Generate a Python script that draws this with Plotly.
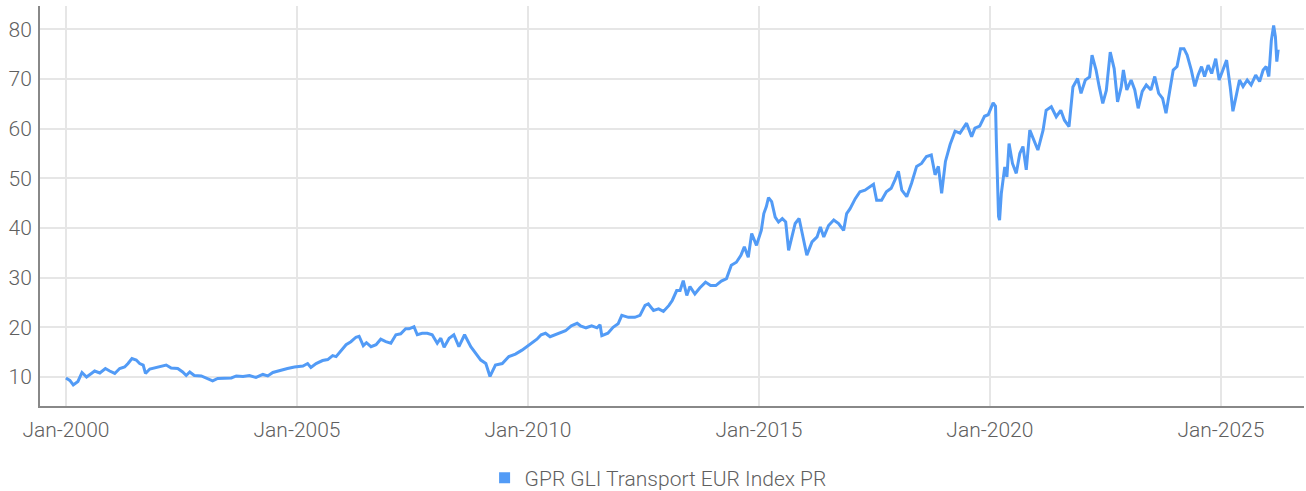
import plotly.graph_objects as go

dates = [
    "2000-01-01", "2000-02-01", "2000-02-28", "2000-04-05", "2000-05-07", "2000-06-12", "2000-07-20",
    "2000-08-15", "2000-09-25", "2000-11-08", "2000-12-12", "2001-01-21", "2001-03-01", "2001-04-09",
    "2001-05-06", "2001-06-06", "2001-07-10", "2001-08-06", "2001-09-03", "2001-09-21", "2001-10-25",
    "2001-12-03", "2002-01-25", "2002-03-04", "2002-04-12", "2002-06-03", "2002-07-12", "2002-08-09",
    "2002-09-06", "2002-10-12", "2002-12-06", "2003-01-28", "2003-03-06", "2003-04-15", "2003-06-06",
    "2003-08-01", "2003-09-09", "2003-11-01", "2003-12-22", "2004-02-12", "2004-04-06", "2004-05-15",
    "2004-06-24", "2004-08-28", "2004-10-18", "2004-12-12",
    "2005-02-17", "2005-03-26", "2005-04-21", "2005-06-01", "2005-07-22", "2005-09-01", "2005-10-10",
    "2005-11-06", "2005-12-15", "2006-01-24", "2006-03-03", "2006-04-12", "2006-05-07", "2006-06-09",
    "2006-07-04", "2006-08-09", "2006-09-18", "2006-10-25", "2006-12-04", "2007-01-13", "2007-02-22",
    "2007-04-01", "2007-05-10", "2007-06-06", "2007-07-15", "2007-08-10", "2007-09-18", "2007-10-28",
    "2007-12-06", "2008-01-15", "2008-02-12", "2008-03-09", "2008-04-18", "2008-05-25", "2008-07-04",
    "2008-08-18", "2008-10-06", "2008-11-15", "2008-12-24", "2009-02-02", "2009-03-07", "2009-04-19",
    "2009-06-12", "2009-08-03", "2009-09-24", "2009-11-15", "2010-01-09",
    "2010-03-13", "2010-04-15", "2010-05-20", "2010-06-25", "2010-08-01", "2010-09-15", "2010-10-25",
    "2010-12-10", "2011-01-25", "2011-02-20", "2011-04-05", "2011-05-20", "2011-07-01", "2011-07-25",
    "2011-08-08", "2011-09-25", "2011-11-05", "2011-12-15", "2012-01-13", "2012-03-05", "2012-04-25",
    "2012-06-05", "2012-07-15", "2012-08-10", "2012-09-20", "2012-10-30", "2012-12-07", "2013-01-20",
    "2013-02-15", "2013-03-22", "2013-04-18", "2013-05-13", "2013-06-10", "2013-07-05", "2013-08-13",
    "2013-09-20", "2013-11-05", "2013-12-15", "2014-01-25", "2014-03-10", "2014-04-20", "2014-05-28",
    "2014-07-07", "2014-08-12", "2014-09-08", "2014-10-09", "2014-11-05", "2014-12-13", "2015-01-05",
    "2015-01-20", "2015-02-09", "2015-03-01", "2015-03-18", "2015-04-12", "2015-05-10", "2015-06-05",
    "2015-07-05", "2015-08-01", "2015-08-24", "2015-09-20", "2015-10-15", "2015-11-15", "2015-12-15",
    "2016-01-15", "2016-02-25", "2016-04-05", "2016-05-01", "2016-05-28", "2016-07-05", "2016-08-15",
    "2016-09-22", "2016-11-01", "2016-11-25", "2016-12-22", "2017-02-01", "2017-03-10", "2017-04-19",
    "2017-05-28", "2017-06-25", "2017-07-20", "2017-08-28", "2017-10-05", "2017-11-12", "2017-12-12",
    "2018-01-08", "2018-02-04", "2018-03-15", "2018-04-22", "2018-06-01", "2018-07-10", "2018-08-18",
    "2018-09-25", "2018-10-25", "2018-11-20", "2018-12-16", "2019-01-15", "2019-02-21", "2019-04-01",
    "2019-05-10", "2019-07-01", "2019-08-10", "2019-09-05", "2019-10-13", "2019-11-20", "2019-12-19",
    "2020-01-27", "2020-02-15", "2020-02-22", "2020-03-10", "2020-03-18", "2020-04-01", "2020-04-28",
    "2020-05-15", "2020-06-01", "2020-06-28", "2020-07-28", "2020-08-25", "2020-09-19", "2020-10-15",
    "2020-11-12", "2020-12-10", "2021-01-15", "2021-02-25", "2021-03-21", "2021-05-01", "2021-06-09",
    "2021-07-15", "2021-08-13", "2021-09-18", "2021-10-19", "2021-11-25", "2021-12-22", "2022-01-25",
    "2022-02-28", "2022-03-19", "2022-04-20", "2022-05-15", "2022-06-12", "2022-07-10", "2022-08-10",
    "2022-09-10", "2022-10-07", "2022-11-05", "2022-11-22", "2022-12-19", "2023-01-22", "2023-02-20",
    "2023-03-19", "2023-04-20", "2023-05-22", "2023-06-28", "2023-07-28", "2023-08-28", "2023-09-28",
    "2023-10-25", "2023-11-25", "2023-12-21", "2024-01-20", "2024-02-17", "2024-03-15", "2024-04-09",
    "2024-05-12", "2024-06-09", "2024-07-05", "2024-08-01", "2024-08-25", "2024-09-22", "2024-10-20",
    "2024-11-21", "2024-12-18", "2025-01-18", "2025-02-15", "2025-03-15", "2025-04-06", "2025-05-01",
    "2025-05-28", "2025-06-25", "2025-07-28", "2025-08-28", "2025-10-03", "2025-11-03", "2025-12-01",
    "2025-12-25", "2026-01-15", "2026-02-04", "2026-02-22", "2026-03-08", "2026-03-19", "2026-03-30",
]

index_values = [
    9.8, 9.3, 8.4, 9.1, 10.9, 10.0, 10.7,
    11.2, 10.8, 11.7, 11.2, 10.7, 11.7, 12.0,
    12.7, 13.7, 13.4, 12.7, 12.4, 10.7, 11.6,
    11.8, 12.2, 12.4, 11.8, 11.7, 11.0, 10.3,
    11.0, 10.3, 10.2, 9.7, 9.2, 9.7, 9.7,
    9.8, 10.2, 10.1, 10.3, 9.9, 10.5, 10.2,
    10.9, 11.4, 11.7, 12.0,
    12.2, 12.7, 11.9, 12.7, 13.3, 13.5, 14.3,
    14.1, 15.4, 16.5, 17.1, 18.0, 18.2, 16.3,
    16.9, 16.1, 16.5, 17.6, 17.1, 16.8, 18.5,
    18.7, 19.7, 19.7, 20.1, 18.5, 18.8, 18.8,
    18.5, 16.8, 17.8, 16.0, 17.8, 18.5, 16.1,
    18.5, 16.1, 14.8, 13.4, 12.7, 10.1, 12.4,
    12.7, 14.1, 14.6, 15.4, 16.5,
    17.6, 18.5, 18.8, 18.1, 18.5, 19.0, 19.3,
    20.3, 20.8, 20.3, 19.9, 20.3, 19.9, 20.5,
    18.3, 18.8, 20.0, 20.7, 22.4, 22.0, 22.0,
    22.4, 24.4, 24.7, 23.4, 23.7, 23.2, 24.4,
    25.4, 27.4, 27.4, 29.4, 26.4, 28.2, 26.7,
    27.9, 29.1, 28.4, 28.4, 29.3, 29.8, 32.5,
    33.1, 34.5, 36.2, 34.1, 38.9, 36.5, 38.2,
    39.5, 42.9, 44.3, 46.1, 45.3, 42.2, 41.2,
    41.9, 41.2, 35.5, 38.2, 40.9, 41.9, 38.2,
    34.5, 37.2, 38.2, 40.2, 38.2, 40.5, 41.6,
    40.9, 39.5, 42.9, 43.9, 45.9, 47.3, 47.6,
    48.3, 48.8, 45.6, 45.6, 47.3, 48.0, 49.7,
    51.4, 47.6, 46.3, 49.0, 52.4, 53.0, 54.4,
    54.7, 50.7, 52.4, 47.0, 53.4, 56.8, 59.5,
    59.1, 61.1, 58.4, 60.1, 60.5, 62.5, 62.8,
    65.2, 64.5, 57.0, 42.3, 41.6, 47.0, 52.3,
    50.3, 57.0, 53.0, 51.0, 55.0, 56.4, 51.7,
    59.7, 58.0, 55.7, 59.7, 63.7, 64.4, 62.4,
    63.7, 61.7, 60.4, 68.4, 70.1, 67.1, 69.8,
    70.4, 74.8, 71.8, 68.4, 65.1, 67.7, 75.4,
    72.1, 65.4, 68.4, 71.8, 67.8, 69.8, 67.8,
    64.1, 67.5, 68.8, 67.8, 70.5, 67.1, 66.1,
    63.1, 67.8, 71.8, 72.5, 76.1, 76.1, 74.8,
    71.8, 68.5, 70.8, 72.5, 70.5, 72.8, 71.1,
    74.1, 69.8, 72.1, 73.8, 68.5, 63.5, 66.5,
    69.8, 68.5, 69.8, 68.8, 70.8, 69.5, 71.8,
    72.5, 70.5, 77.8, 80.8, 78.5, 73.5, 75.9,
]

series_name = "GPR GLI Transport EUR Index PR"
x_tick_vals = ["2000-01-01", "2005-01-01", "2010-01-01", "2015-01-01", "2020-01-01", "2025-01-01"]
x_tick_text = ["Jan-2000", "Jan-2005", "Jan-2010", "Jan-2015", "Jan-2020", "Jan-2025"]
y_tick_vals = [10, 20, 30, 40, 50, 60, 70, 80]

blue = "#529BF6"
font_family = "Roboto"
text_color = "#5f5f5f"

fig = go.Figure()
fig.add_trace(go.Scatter(
    x=dates, y=index_values, mode="lines", name=series_name,
    line=dict(color=blue, width=3), showlegend=False,
))
fig.add_trace(go.Scatter(
    x=[None], y=[None], mode="markers", name=series_name,
    marker=dict(symbol="square", size=11, color=blue), showlegend=True,
))

fig.update_layout(
    width=1306, height=491,
    margin=dict(l=40, r=2, t=6, b=85, autoexpand=False),
    paper_bgcolor="white", plot_bgcolor="white",
    font=dict(family=font_family, size=21, color=text_color, weight=300),
    legend=dict(orientation="h", x=0.489, xanchor="center", y=-0.18, yanchor="middle",
                font=dict(size=21, color=text_color, weight=300), itemwidth=30),
    xaxis=dict(
        type="date", range=["1999-06-10", "2026-10-20"],
        tickvals=x_tick_vals, ticktext=x_tick_text,
        showgrid=True, gridcolor="#e6e6e6", gridwidth=2,
        showline=True, linecolor="#888888", linewidth=2,
        ticks="", zeroline=False, ticklabelstandoff=4, automargin=False,
    ),
    yaxis=dict(
        range=[4.15, 84.7], tickvals=y_tick_vals,
        showgrid=True, gridcolor="#e6e6e6", gridwidth=2,
        showline=True, linecolor="#888888", linewidth=2,
        ticks="", zeroline=False, ticklabelstandoff=2, automargin=False,
    ),
)

fig.write_html(
    "out.html",
    config={"displayModeBar": False},
    post_script="document.body.style.margin='0px';document.body.style.overflow='hidden';",
)
